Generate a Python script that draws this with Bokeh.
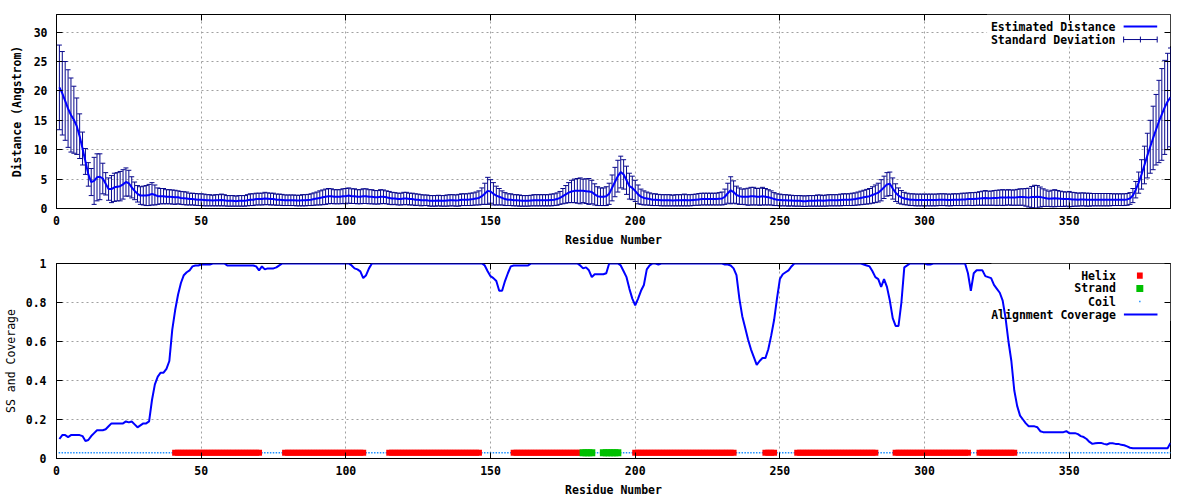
import numpy as np
from bokeh.plotting import figure
from bokeh.layouts import column
from bokeh.models import (ColumnDataSource, Range1d, FixedTicker, LinearAxis, Label,
                          BoxAnnotation, Arrow, TeeHead, CustomJSTickFormatter)
from bokeh.embed import file_html
from bokeh.resources import INLINE

# ---------------- data ----------------
residues = list(range(1, 386))

distance = [
    20.6, 19.6, 18.3, 17.0, 15.9, 15.1, 14.0, 12.3, 10.2, 8.0,
    5.8, 4.5, 4.7, 5.3, 5.4, 5.1, 4.2, 3.3, 3.3, 3.6,
    3.7, 3.8, 4.1, 4.5, 4.3, 3.6, 3.0, 2.5, 2.2, 2.2,
    2.2, 2.3, 2.5, 2.3, 2.1, 2.1, 2.1, 2.0, 2.0, 1.95,
    1.9, 1.9, 1.8, 1.75, 1.7, 1.6, 1.6, 1.55, 1.5, 1.5,
    1.45, 1.4, 1.4, 1.35, 1.4, 1.4, 1.45, 1.4, 1.3, 1.3,
    1.3, 1.25, 1.3, 1.3, 1.3, 1.4, 1.5, 1.5, 1.6, 1.6,
    1.6, 1.7, 1.65, 1.6, 1.6, 1.5, 1.5, 1.45, 1.4, 1.4,
    1.4, 1.4, 1.35, 1.35, 1.4, 1.4, 1.45, 1.5, 1.6, 1.7,
    1.8, 1.9, 2.0, 2.1, 2.1, 2.0, 2.0, 2.0, 2.1, 2.1,
    2.2, 2.1, 2.1, 2.0, 2.0, 2.1, 2.1, 2.0, 2.0, 1.9,
    1.9, 2.0, 2.0, 1.9, 1.8, 1.7, 1.7, 1.6, 1.6, 1.7,
    1.7, 1.6, 1.6, 1.5, 1.5, 1.4, 1.4, 1.4, 1.3, 1.3,
    1.3, 1.35, 1.3, 1.3, 1.35, 1.4, 1.4, 1.35, 1.4, 1.5,
    1.5, 1.5, 1.55, 1.6, 1.7, 1.8, 2.1, 2.5, 3.0, 2.9,
    2.5, 2.2, 2.0, 1.8, 1.6, 1.5, 1.5, 1.4, 1.4, 1.35,
    1.3, 1.3, 1.3, 1.35, 1.4, 1.4, 1.4, 1.4, 1.4, 1.4,
    1.45, 1.5, 1.6, 1.8, 2.1, 2.4, 2.7, 2.9, 3.0, 3.0,
    3.0, 3.0, 2.95, 2.9, 2.8, 2.4, 2.1, 2.0, 2.0, 2.1,
    2.5, 3.5, 4.5, 5.5, 6.2, 5.8, 4.8, 3.8, 3.5, 3.0,
    2.4, 2.0, 1.8, 1.7, 1.6, 1.5, 1.5, 1.45, 1.4, 1.4,
    1.4, 1.4, 1.35, 1.4, 1.4, 1.4, 1.45, 1.4, 1.4, 1.45,
    1.5, 1.55, 1.6, 1.6, 1.6, 1.6, 1.6, 1.6, 1.65, 1.7,
    2.0, 2.6, 3.1, 2.8, 2.3, 2.1, 2.0, 2.0, 2.0, 2.1,
    2.1, 2.0, 2.0, 2.1, 2.0, 1.9, 1.8, 1.6, 1.5, 1.45,
    1.4, 1.4, 1.35, 1.35, 1.3, 1.3, 1.3, 1.25, 1.25, 1.3,
    1.3, 1.3, 1.35, 1.35, 1.3, 1.35, 1.4, 1.4, 1.4, 1.4,
    1.45, 1.5, 1.5, 1.5, 1.55, 1.6, 1.7, 1.8, 1.9, 2.0,
    2.1, 2.3, 2.5, 2.7, 3.1, 3.6, 4.1, 4.2, 3.4, 2.7,
    2.2, 1.9, 1.7, 1.6, 1.5, 1.5, 1.45, 1.45, 1.45, 1.45,
    1.45, 1.45, 1.45, 1.45, 1.5, 1.5, 1.5, 1.45, 1.45, 1.5,
    1.5, 1.5, 1.55, 1.55, 1.6, 1.6, 1.6, 1.65, 1.7, 1.75,
    1.8, 1.75, 1.75, 1.8, 1.8, 1.85, 1.85, 1.85, 1.9, 1.85,
    1.85, 1.9, 1.95, 1.95, 1.9, 1.85, 1.95, 1.95, 2.0, 1.95,
    1.85, 1.75, 1.65, 1.7, 1.75, 1.7, 1.65, 1.6, 1.6, 1.6,
    1.55, 1.55, 1.5, 1.55, 1.55, 1.5, 1.5, 1.5, 1.5, 1.5,
    1.5, 1.5, 1.5, 1.5, 1.5, 1.5, 1.5, 1.5, 1.5, 1.55,
    1.7, 2.2, 3.2, 4.4, 5.8, 7.4, 9.0, 10.5, 12.0, 13.4,
    14.8, 16.0, 17.2, 18.2, 18.9,
]

std_dev = [
    7.2, 7.1, 6.7, 6.6, 6.3, 5.7, 4.8, 3.8, 2.8, 2.2,
    2.0, 2.3, 4.0, 4.0, 3.9, 2.6, 1.9, 1.9, 2.3, 2.4,
    2.4, 2.5, 2.5, 2.4, 2.2, 1.8, 1.5, 1.4, 1.5, 1.6,
    1.7, 1.8, 1.9, 1.7, 1.4, 1.3, 1.3, 1.2, 1.2, 1.2,
    1.2, 1.1, 1.1, 1.1, 1.1, 1.0, 1.0, 1.0, 1.0, 1.0,
    1.0, 0.95, 0.95, 0.9, 0.95, 0.95, 1.0, 0.95, 0.9, 0.9,
    0.9, 0.85, 0.9, 0.9, 0.9, 0.95, 1.0, 1.0, 1.0, 1.0,
    1.0, 1.05, 1.0, 1.0, 1.0, 0.95, 0.95, 0.95, 0.9, 0.9,
    0.9, 0.9, 0.9, 0.9, 0.95, 0.95, 0.95, 1.0, 1.05, 1.1,
    1.2, 1.25, 1.3, 1.3, 1.25, 1.2, 1.2, 1.2, 1.25, 1.3,
    1.3, 1.25, 1.25, 1.2, 1.2, 1.25, 1.25, 1.2, 1.2, 1.15,
    1.15, 1.2, 1.15, 1.1, 1.1, 1.05, 1.0, 1.0, 1.0, 1.05,
    1.05, 1.0, 1.0, 1.0, 0.95, 0.95, 0.9, 0.9, 0.9, 0.9,
    0.9, 0.9, 0.9, 0.9, 0.95, 0.95, 0.95, 0.95, 1.0, 1.0,
    1.0, 1.0, 1.05, 1.05, 1.1, 1.2, 1.4, 1.8, 2.3, 2.0,
    1.9, 1.6, 1.4, 1.2, 1.1, 1.0, 1.0, 0.95, 0.95, 0.95,
    0.9, 0.9, 0.9, 0.9, 0.95, 0.95, 0.95, 0.95, 0.95, 0.95,
    1.0, 1.0, 1.05, 1.1, 1.3, 1.5, 1.7, 1.9, 2.0, 2.1,
    2.2, 2.0, 2.1, 2.2, 2.0, 1.8, 1.6, 1.5, 1.5, 1.6,
    1.8, 2.2, 2.5, 2.7, 2.7, 2.5, 2.4, 2.2, 2.0, 1.8,
    1.6, 1.3, 1.2, 1.1, 1.05, 1.0, 1.0, 0.95, 0.95, 0.95,
    0.95, 0.95, 0.9, 0.95, 0.95, 0.95, 1.0, 0.95, 0.95, 0.95,
    0.95, 1.0, 1.0, 1.0, 1.0, 1.0, 1.0, 1.0, 1.05, 1.1,
    1.3, 1.7, 2.3, 1.9, 1.5, 1.4, 1.3, 1.35, 1.45, 1.5,
    1.5, 1.4, 1.45, 1.5, 1.4, 1.3, 1.2, 1.1, 1.0, 1.0,
    0.95, 0.95, 0.95, 0.9, 0.9, 0.9, 0.9, 0.9, 0.9, 0.9,
    0.9, 0.9, 0.95, 0.95, 0.9, 0.95, 0.95, 0.95, 0.95, 0.95,
    1.0, 1.0, 1.0, 1.0, 1.05, 1.05, 1.1, 1.15, 1.2, 1.25,
    1.3, 1.4, 1.5, 1.6, 1.8, 1.9, 2.0, 2.0, 1.8, 1.5,
    1.3, 1.15, 1.05, 1.0, 1.0, 1.0, 1.0, 1.0, 1.0, 1.0,
    1.0, 1.0, 1.0, 1.0, 1.0, 1.0, 1.0, 1.0, 1.0, 1.0,
    1.0, 1.0, 1.05, 1.05, 1.05, 1.1, 1.1, 1.1, 1.15, 1.2,
    1.25, 1.2, 1.2, 1.25, 1.3, 1.3, 1.35, 1.3, 1.3, 1.3,
    1.3, 1.35, 1.4, 1.4, 1.5, 1.6, 1.8, 2.0, 1.9, 1.7,
    1.5, 1.4, 1.3, 1.4, 1.45, 1.35, 1.3, 1.25, 1.2, 1.3,
    1.2, 1.15, 1.1, 1.1, 1.1, 1.1, 1.1, 1.05, 1.05, 1.05,
    1.05, 1.05, 1.05, 1.05, 1.0, 1.0, 1.0, 1.0, 1.0, 1.0,
    1.0, 1.2, 1.4, 1.8, 2.5, 3.2, 3.8, 4.5, 5.4, 6.0,
    7.0, 7.8, 8.0, 8.2, 8.4,
]

coverage = [
    0.10, 0.12, 0.12, 0.11, 0.12, 0.12, 0.12, 0.12, 0.115, 0.09,
    0.095, 0.115, 0.13, 0.145, 0.145, 0.145, 0.15, 0.165, 0.18, 0.18,
    0.18, 0.18, 0.18, 0.19, 0.185, 0.19, 0.175, 0.16, 0.17, 0.18,
    0.18, 0.19, 0.30, 0.38, 0.42, 0.44, 0.44, 0.46, 0.50, 0.66,
    0.76, 0.84, 0.90, 0.94, 0.955, 0.965, 0.985, 0.99, 0.99, 0.995,
    0.995, 0.995, 0.995, 1.0, 1.0, 1.0, 1.0, 1.0, 0.99, 0.99,
    0.99, 0.99, 0.99, 0.99, 0.99, 0.99, 0.99, 0.99, 0.985, 0.965,
    0.985, 0.97, 0.975, 0.975, 0.975, 0.98, 0.99, 1.0, 1.0, 1.0,
    1.0, 1.0, 1.0, 1.0, 1.0, 1.0, 1.0, 1.0, 1.0, 1.0,
    1.0, 1.0, 1.0, 1.0, 1.0, 1.0, 1.0, 1.0, 1.0, 1.0,
    1.0, 0.99, 0.975, 0.97, 0.96, 0.925, 0.94, 0.975, 1.0, 1.0,
    1.0, 1.0, 1.0, 1.0, 1.0, 1.0, 1.0, 1.0, 1.0, 1.0,
    1.0, 1.0, 1.0, 1.0, 1.0, 1.0, 1.0, 1.0, 1.0, 1.0,
    1.0, 1.0, 1.0, 1.0, 1.0, 1.0, 1.0, 1.0, 1.0, 1.0,
    1.0, 1.0, 1.0, 1.0, 1.0, 1.0, 1.0, 0.99, 0.96, 0.935,
    0.925, 0.91, 0.86, 0.86, 0.91, 0.95, 0.985, 0.99, 0.99, 0.99,
    0.99, 0.99, 0.99, 1.0, 1.0, 1.0, 1.0, 1.0, 1.0, 1.0,
    1.0, 1.0, 1.0, 1.0, 1.0, 1.0, 1.0, 1.0, 1.0, 1.0,
    0.99, 0.975, 0.98, 0.965, 0.93, 0.945, 0.945, 0.945, 0.945, 0.95,
    1.0, 1.0, 1.0, 1.0, 0.99, 0.96, 0.93, 0.87, 0.82, 0.785,
    0.82, 0.86, 0.89, 0.97, 0.99, 1.0, 1.0, 0.995, 1.0, 1.0,
    1.0, 1.0, 1.0, 1.0, 1.0, 1.0, 1.0, 1.0, 1.0, 1.0,
    1.0, 1.0, 1.0, 1.0, 1.0, 1.0, 1.0, 1.0, 1.0, 1.0,
    0.995, 0.995, 0.99, 0.975, 0.94, 0.82, 0.73, 0.67, 0.61, 0.56,
    0.52, 0.48, 0.50, 0.515, 0.515, 0.56, 0.63, 0.71, 0.82, 0.92,
    0.945, 0.955, 0.965, 0.985, 1.0, 1.0, 1.0, 1.0, 1.0, 1.0,
    1.0, 1.0, 1.0, 1.0, 1.0, 1.0, 1.0, 1.0, 1.0, 1.0,
    1.0, 1.0, 1.0, 1.0, 1.0, 1.0, 1.0, 1.0, 0.995, 0.99,
    0.985, 0.96, 0.93, 0.92, 0.88, 0.92, 0.88, 0.81, 0.72, 0.68,
    0.68, 0.80, 0.98, 0.99, 1.0, 1.0, 1.0, 1.0, 1.0, 1.0,
    0.995, 0.995, 1.0, 1.0, 1.0, 1.0, 1.0, 1.0, 1.0, 1.0,
    1.0, 1.0, 1.0, 1.0, 0.95, 0.86, 0.95, 0.965, 0.965, 0.965,
    0.935, 0.93, 0.925, 0.89, 0.87, 0.85, 0.81, 0.72, 0.60, 0.50,
    0.35, 0.27, 0.22, 0.20, 0.18, 0.165, 0.165, 0.165, 0.16, 0.14,
    0.135, 0.135, 0.135, 0.135, 0.135, 0.135, 0.135, 0.135, 0.14, 0.13,
    0.13, 0.13, 0.125, 0.115, 0.11, 0.10, 0.085, 0.075, 0.078, 0.08,
    0.08, 0.075, 0.072, 0.078, 0.078, 0.075, 0.075, 0.07, 0.068, 0.062,
    0.055, 0.053, 0.053, 0.053, 0.053, 0.053, 0.053, 0.053, 0.053, 0.053,
    0.053, 0.053, 0.053, 0.053, 0.08,
]

helix_segments = [(41, 70), (79, 106), (115, 146), (158, 181), (200, 234),
                  (245, 248), (256, 283), (290, 315), (319, 331)]
strand_segments = [(182, 185), (189, 194)]

x_ticks = [0, 50, 100, 150, 200, 250, 300, 350]
dist_ticks = [0, 5, 10, 15, 20, 25, 30]
cov_ticks = [0, 0.2, 0.4, 0.6, 0.8, 1.0]

# ---------------- styles ----------------
FONT = "DejaVu Sans Mono"
FS = "11.5px"
ERR_COLOR = "#08088c"
LINE_COLOR = "#0000ff"
SS_LEVEL = 0.03


def style_axis(ax, ticks, standoff):
    ax.ticker = FixedTicker(ticks=ticks)
    ax.major_tick_in = 6
    ax.major_tick_out = 0
    ax.minor_tick_line_color = None
    ax.axis_line_color = "black"
    ax.major_tick_line_color = "black"
    ax.major_label_standoff = standoff
    ax.major_label_text_font = FONT
    ax.major_label_text_font_style = "bold"
    ax.major_label_text_font_size = FS
    ax.major_label_text_color = "black"
    ax.axis_label_text_font = FONT
    ax.axis_label_text_font_size = FS
    ax.axis_label_text_font_style = "bold"
    ax.axis_label_text_color = "black"


def mirror_axis(p, ticks, side):
    ax = LinearAxis(ticker=FixedTicker(ticks=ticks),
                    formatter=CustomJSTickFormatter(code="return '';"),
                    major_label_text_font_size="1px", major_label_standoff=0,
                    major_tick_in=6, major_tick_out=0,
                    minor_tick_line_color=None, axis_line_color=None,
                    major_tick_line_color="black")
    p.add_layout(ax, side)


def style_grid(p, xt, yt):
    p.xgrid.ticker = FixedTicker(ticks=xt)
    p.ygrid.ticker = FixedTicker(ticks=yt)
    for g in (p.xgrid, p.ygrid):
        g.grid_line_color = "#a0a0a0"
        g.grid_line_dash = "2 3"
        g.grid_line_width = 1


def legend_text(p, x, y, text):
    p.add_layout(Label(x=x, y=y, text=text, text_align="right", text_baseline="middle",
                       text_font=FONT, text_font_style="bold", text_font_size=FS,
                       text_color="black"))


# ---------------- top panel ----------------
res = np.array(residues, dtype=float)
dist = np.array(distance)
sd = np.array(std_dev)
src1 = ColumnDataSource(dict(x=res, y=dist, lo=dist - sd, hi=dist + sd))

p1 = figure(width=1184, height=251, x_range=Range1d(0, 385), y_range=Range1d(0, 33),
            output_backend="svg", toolbar_location=None,
            min_border_left=44, min_border_right=14, min_border_top=14, min_border_bottom=43)
p1.outline_line_color = "black"
p1.outline_line_alpha = 1
p1.background_fill_color = "white"
p1.border_fill_color = "white"
style_grid(p1, x_ticks, dist_ticks)
style_axis(p1.xaxis[0], x_ticks, 7)
style_axis(p1.yaxis[0], dist_ticks, 9)
p1.xaxis.axis_label = "Residue Number"
p1.xaxis.axis_label_standoff = 5
p1.yaxis.axis_label = "Distance (Angstrom)"
p1.yaxis.axis_label_standoff = 7
mirror_axis(p1, dist_ticks, "right")
mirror_axis(p1, x_ticks, "above")

# legend background (hides grid under key)
p1.add_layout(BoxAnnotation(left=321.6, right=385, bottom=27.6, top=33,
                            fill_color="white", fill_alpha=1, line_alpha=0, level="underlay"))

p1.segment(x0="x", y0="lo", x1="x", y1="hi", source=src1, line_color=ERR_COLOR, line_width=1)
p1.scatter("x", "hi", source=src1, marker="dash", size=5, line_color=ERR_COLOR, line_width=1)
p1.scatter("x", "lo", source=src1, marker="dash", size=5, line_color=ERR_COLOR, line_width=1)
p1.line("x", "y", source=src1, line_color=LINE_COLOR, line_width=2)

legend_text(p1, 366.0, 30.95, "Estimated Distance")
legend_text(p1, 366.0, 28.74, "Standard Deviation")
p1.add_layout(Arrow(x_start=368.8, y_start=30.95, x_end=380.4, y_end=30.95, start=None, end=None,
                    line_color=LINE_COLOR, line_width=2))
p1.add_layout(Arrow(x_start=368.8, y_start=28.74, x_end=380.4, y_end=28.74,
                    start=TeeHead(size=6, line_color=ERR_COLOR, line_width=1),
                    end=TeeHead(size=6, line_color=ERR_COLOR, line_width=1),
                    line_color=ERR_COLOR, line_width=1))
p1.add_layout(Arrow(x_start=374.6, y_start=28.24, x_end=374.6, y_end=29.24, start=None, end=None,
                    line_color=ERR_COLOR, line_width=1))

# ---------------- bottom panel ----------------
helix_res = [r for (a, b) in helix_segments for r in range(a, b + 1)]
strand_res = [r for (a, b) in strand_segments for r in range(a, b + 1)]
ss_set = set(helix_res) | set(strand_res)
coil_res = [r for r in residues if r not in ss_set]

p2 = figure(width=1184, height=249, x_range=Range1d(0, 385), y_range=Range1d(0, 1),
            output_backend="svg", toolbar_location=None,
            min_border_left=50, min_border_right=14, min_border_top=12, min_border_bottom=42)
p2.outline_line_color = "black"
p2.outline_line_alpha = 1
style_grid(p2, x_ticks, cov_ticks)
style_axis(p2.xaxis[0], x_ticks, 7)
style_axis(p2.yaxis[0], cov_ticks, 10)
p2.yaxis.formatter = CustomJSTickFormatter(code="return String(Math.round(tick * 10) / 10);")
p2.xaxis.axis_label = "Residue Number"
p2.xaxis.axis_label_standoff = 5
p2.yaxis.axis_label = "SS and Coverage"
p2.yaxis.axis_label_standoff = 5
p2.yaxis.axis_label_text_font_style = "normal"
mirror_axis(p2, cov_ticks, "right")
mirror_axis(p2, x_ticks, "above")

p2.add_layout(BoxAnnotation(left=323.1, right=385, bottom=0.705, top=1.0,
                            fill_color="white", fill_alpha=1, line_alpha=0, level="underlay"))

p2.scatter(x=coil_res, y=[SS_LEVEL] * len(coil_res), marker="square", size=1.5,
           fill_color="#1e90ff", line_color=None)
p2.scatter(x=helix_res, y=[SS_LEVEL] * len(helix_res), marker="square", size=6,
           fill_color="#ff0000", line_color=None)
p2.scatter(x=strand_res, y=[SS_LEVEL] * len(strand_res), marker="square", size=7,
           fill_color="#00c000", line_color=None)
p2.line(x=residues, y=coverage, line_color=LINE_COLOR, line_width=2)

legend_text(p2, 366.1, 0.938, "Helix")
legend_text(p2, 366.1, 0.872, "Strand")
legend_text(p2, 366.1, 0.805, "Coil")
legend_text(p2, 366.1, 0.738, "Alignment Coverage")
p2.add_layout(BoxAnnotation(left=373.4, right=375.4, bottom=0.922, top=0.954,
                            fill_color="#ff0000", fill_alpha=1, line_alpha=0))
p2.add_layout(BoxAnnotation(left=373.2, right=375.6, bottom=0.854, top=0.89,
                            fill_color="#00c000", fill_alpha=1, line_alpha=0))
p2.add_layout(BoxAnnotation(left=374.15, right=374.65, bottom=0.801, top=0.809,
                            fill_color="#1e90ff", fill_alpha=1, line_alpha=0))
p2.add_layout(Arrow(x_start=368.9, y_start=0.738, x_end=380.5, y_end=0.738, start=None, end=None,
                    line_color=LINE_COLOR, line_width=2))

layout = column(p1, p2)
open("out.html", "w").write(file_html(layout, INLINE))
